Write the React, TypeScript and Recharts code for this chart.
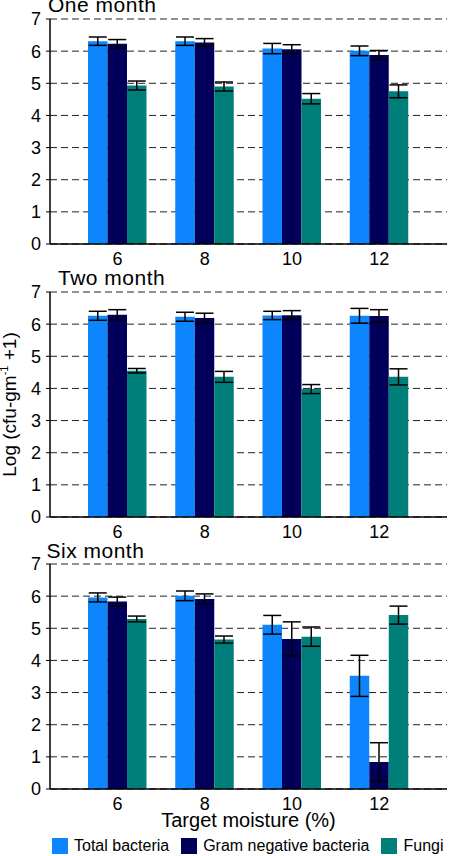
import React from "react";
import { BarChart, Bar, XAxis, YAxis, CartesianGrid, ErrorBar, Legend } from "recharts";

// Target moisture levels (%) on the x axis
const moisture = ["6", "8", "10", "12"];
const yTicks = [0, 1, 2, 3, 4, 5, 6, 7];

// One month, Log(cfu-gm-1 +1) means and error
const oneTotal = [6.31, 6.31, 6.08, 6.01];
const oneTotalErr = [0.13, 0.13, 0.16, 0.15];
const oneGram = [6.23, 6.27, 6.06, 5.88];
const oneGramErr = [0.13, 0.12, 0.14, 0.14];
const oneFungi = [4.93, 4.9, 4.52, 4.75];
const oneFungiErr = [0.14, 0.14, 0.16, 0.2];

// Two month
const twoTotal = [6.26, 6.23, 6.27, 6.26];
const twoTotalErr = [0.14, 0.14, 0.13, 0.23];
const twoGram = [6.29, 6.19, 6.28, 6.25];
const twoGramErr = [0.16, 0.15, 0.14, 0.2];
const twoFungi = [4.55, 4.36, 3.98, 4.36];
const twoFungiErr = [0.07, 0.17, 0.14, 0.25];

// Six month
const sixTotal = [5.96, 6.01, 5.11, 3.52];
const sixTotalErr = [0.14, 0.15, 0.29, 0.64];
const sixGram = [5.83, 5.91, 4.67, 0.84];
const sixGramErr = [0.14, 0.16, 0.53, 0.6];
const sixFungi = [5.29, 4.65, 4.74, 5.41];
const sixFungiErr = [0.09, 0.11, 0.3, 0.28];

const seriesNames = ["Total bacteria", "Gram negative bacteria", "Fungi"];

const COLORS = {
  total: "#0d85fc",
  gram: "#00005a",
  fungi: "#007f7a",
};

const FONT = "'Liberation Sans', Arial, sans-serif";

const buildRows = (
  total: number[], totalErr: number[],
  gram: number[], gramErr: number[],
  fungi: number[], fungiErr: number[]
) =>
  moisture.map((m, i) => ({
    moisture: m,
    total: total[i], totalErr: totalErr[i],
    gram: gram[i], gramErr: gramErr[i],
    fungi: fungi[i], fungiErr: fungiErr[i],
  }));

const oneMonth = buildRows(oneTotal, oneTotalErr, oneGram, oneGramErr, oneFungi, oneFungiErr);
const twoMonth = buildRows(twoTotal, twoTotalErr, twoGram, twoGramErr, twoFungi, twoFungiErr);
const sixMonth = buildRows(sixTotal, sixTotalErr, sixGram, sixGramErr, sixFungi, sixFungiErr);

// rotated y label with the superscript exponent
const YLabel = ({ viewBox }: any) => {
  const cy = viewBox ? viewBox.y + viewBox.height / 2 : 0;
  const x = 16;
  return (
    <text x={x} y={cy} transform={`rotate(-90, ${x}, ${cy})`} textAnchor="middle" fontSize={19} fill="#000">
      Log (cfu-gm
      <tspan fontSize={11} dy={-8}>-1</tspan>
      <tspan dy={8}> +1)</tspan>
    </text>
  );
};

// keep legend entries in series order, black labels
const renderLegend = ({ payload }: any) => {
  const items = [...(payload || [])].sort(
    (a: any, b: any) => seriesNames.indexOf(a.value) - seriesNames.indexOf(b.value)
  );
  return (
    <div style={{ display: "flex", alignItems: "center", height: 21, paddingLeft: 52, fontFamily: FONT, whiteSpace: "nowrap" }}>
      {items.map((entry: any) => (
        <div key={entry.value} style={{ display: "flex", alignItems: "center", marginRight: 12, flexShrink: 0 }}>
          <span style={{ display: "inline-block", width: 16, height: 16, background: entry.color, marginRight: 6 }} />
          <span style={{ fontSize: 16, color: "#000" }}>{entry.value}</span>
        </div>
      ))}
    </div>
  );
};

type PanelProps = {
  data: any[];
  top: number;
  last?: boolean;
  yLabel?: boolean;
};

function Panel({ data, top, last, yLabel }: PanelProps) {
  const height = last ? 311 : 274;
  return (
    <div style={{ position: "absolute", left: 0, top }}>
      <BarChart
        width={450}
        height={height}
        data={data}
        margin={{ top: 19, right: 3, left: 0, bottom: 0 }}
        barGap={0}
        barSize={19.5}
      >
        <CartesianGrid vertical={false} stroke="#222" strokeDasharray="7 4" />
        <XAxis
          dataKey="moisture"
          height={last ? 46 : 30}
          padding={{ left: 24, right: 24 }}
          tickLine={false}
          tickSize={0}
          tickMargin={8}
          axisLine={{ stroke: "#000", strokeWidth: 1.5 }}
          tick={{ fill: "#000", fontSize: 18 }}
          label={last ? { value: "Target moisture (%)", position: "insideBottom", offset: 8, fontSize: 20, fill: "#000" } : undefined}
        />
        <XAxis xAxisId="frame" orientation="top" height={0} tick={false} tickLine={false} axisLine={{ stroke: "#000", strokeWidth: 1.5 }} />
        <YAxis
          width={50}
          domain={[0, 7]}
          ticks={yTicks}
          interval={0}
          tickSize={4}
          tickMargin={5}
          tickLine={{ stroke: "#000" }}
          axisLine={{ stroke: "#000", strokeWidth: 1.5 }}
          tick={{ fill: "#000", fontSize: 18 }}
          label={yLabel ? <YLabel /> : undefined}
        />
        <YAxis yAxisId="frame" orientation="right" width={0} tick={false} tickLine={false} axisLine={{ stroke: "#000", strokeWidth: 1.5 }} />
        <Bar dataKey="total" name={seriesNames[0]} fill={COLORS.total} isAnimationActive={false}>
          <ErrorBar dataKey="totalErr" width={9} stroke="#000" strokeWidth={1.5} />
        </Bar>
        <Bar dataKey="gram" name={seriesNames[1]} fill={COLORS.gram} isAnimationActive={false}>
          <ErrorBar dataKey="gramErr" width={9} stroke="#000" strokeWidth={1.5} />
        </Bar>
        <Bar dataKey="fungi" name={seriesNames[2]} fill={COLORS.fungi} isAnimationActive={false}>
          <ErrorBar dataKey="fungiErr" width={9} stroke="#000" strokeWidth={1.5} />
        </Bar>
        {last && (
          <Legend verticalAlign="bottom" height={21} content={renderLegend} wrapperStyle={{ left: 0, width: 450 }} />
        )}
      </BarChart>
    </div>
  );
}

const titleStyle: React.CSSProperties = {
  position: "absolute",
  fontSize: 21,
  lineHeight: "21px",
  letterSpacing: 0.5,
  color: "#000",
  whiteSpace: "nowrap",
};

export default function App() {
  return (
    <div
      style={{
        position: "absolute",
        left: 0,
        top: 0,
        width: 450,
        height: 856,
        overflow: "hidden",
        background: "#fff",
        fontFamily: FONT,
      }}
    >
      <Panel data={oneMonth} top={0} />
      <Panel data={twoMonth} top={273} yLabel />
      <Panel data={sixMonth} top={545} last />
      <div style={{ ...titleStyle, left: 48, top: -6 }}>One month</div>
      <div style={{ ...titleStyle, left: 58, top: 267 }}>Two month</div>
      <div style={{ ...titleStyle, left: 46.5, top: 540 }}>Six month</div>
    </div>
  );
}
